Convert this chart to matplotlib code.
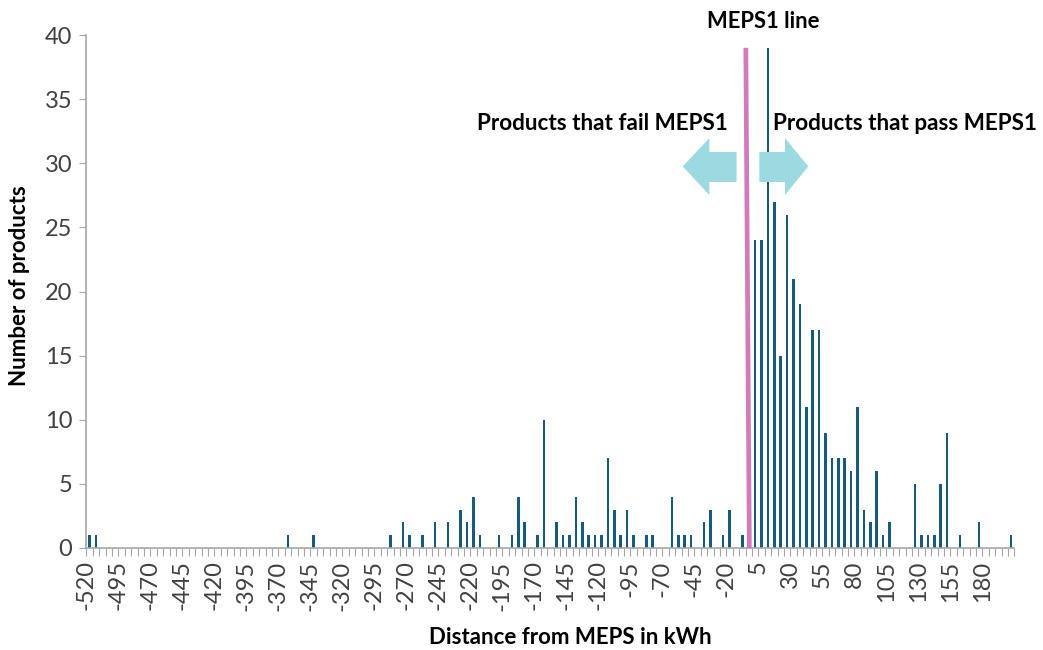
import numpy as np
import matplotlib.pyplot as plt
from matplotlib.patches import Polygon

plt.rcParams['font.family'] = ['Lato', 'DejaVu Sans']

# bins (kWh from MEPS) that have products, and how many
bins = [-520, -515, -365, -345, -285, -275, -270, -260, -250, -240,
        -230, -225, -220, -215, -200, -190, -185, -180, -170, -165,
        -155, -150, -145, -140, -135, -130, -125, -120, -115, -110,
        -105, -100, -95, -85, -80, -65, -60, -55, -50, -40,
        -35, -25, -20, -10, 0, 5, 10, 15, 20, 25,
        30, 35, 40, 45, 50, 55, 60, 65, 70, 75,
        80, 85, 90, 95, 100, 105, 125, 130, 135, 140,
        145, 150, 160, 175, 200]
counts = [1, 1, 1, 1, 1, 2, 1, 1, 2, 2,
          3, 2, 4, 1, 1, 1, 4, 2, 1, 10,
          2, 1, 1, 4, 2, 1, 1, 1, 7, 3,
          1, 3, 1, 1, 1, 4, 1, 1, 1, 2,
          3, 1, 3, 1, 24, 24, 39, 27, 15, 26,
          21, 19, 11, 17, 17, 9, 7, 7, 7, 6,
          11, 3, 2, 6, 1, 2, 5, 1, 1, 1,
          5, 9, 1, 2, 1]

categories = list(range(-520, 205, 5))
label_values = list(range(-520, 185, 25))

all_counts = [0] * len(categories)
for b, c in zip(bins, counts):
    all_counts[categories.index(b)] = c

W, H = 1043, 650
bar_color = '#145B7D'
pink = '#D27BBC'
arrow_color = '#9DD9E1'
axis_gray = '#A6A6A6'
text_gray = '#404040'

fig = plt.figure(figsize=(W / 100, H / 100), dpi=100)
ax = fig.add_axes([86.3 / W, 1 - 548 / H, (1014.3 - 86.3) / W, (548 - 35) / H])

idx = np.arange(len(categories))
ax.bar(idx, all_counts, width=0.4, color=bar_color, zorder=2)

ax.set_xlim(-0.5, len(categories) - 0.5)
ax.set_ylim(0, 40)

for s in ['top', 'right']:
    ax.spines[s].set_visible(False)
for s in ['left', 'bottom']:
    ax.spines[s].set_color(axis_gray)
    ax.spines[s].set_linewidth(1.2)

ax.set_yticks(range(0, 41, 5))
ax.tick_params(axis='y', length=5, color=axis_gray, labelsize=17,
               labelcolor=text_gray, pad=5)

# tick marks at every bin edge, labels every 5th bin
edges = np.arange(-0.5, len(categories), 1)
ax.set_xticks(edges)
xlabels = []
for e in edges:
    k = int(e + 0.5)
    if k < len(categories) and categories[k] in label_values:
        xlabels.append(str(categories[k]))
    else:
        xlabels.append('')
ax.set_xticklabels(xlabels, rotation=90)
ax.tick_params(axis='x', length=6, color=axis_gray, labelsize=17,
               labelcolor=text_gray, pad=3)

# MEPS1 line
meps = categories.index(-5)
ax.plot([meps - 0.45, meps + 0.1], [39.0, 0], color=pink, lw=3.4,
        solid_capstyle='butt', zorder=4, clip_on=False)

# block arrows either side of the line
def block_arrow(tail, head_base, tip, yc):
    return [(tip, yc), (head_base, yc + 2.22), (head_base, yc + 1.13),
            (tail, yc + 1.13), (tail, yc - 1.21), (head_base, yc - 1.21),
            (head_base, yc - 2.23)]

ax.add_patch(Polygon(block_arrow(meps - 1.9, meps - 6.15, meps - 10.3, 29.75),
                     closed=True, color=arrow_color, lw=0, zorder=3))
ax.add_patch(Polygon(block_arrow(meps + 1.66, meps + 5.67, meps + 9.31, 29.75),
                     closed=True, color=arrow_color, lw=0, zorder=3))

fig.text(763.7 / W, 1 - 21.7 / H, 'MEPS1 line', ha='center', va='center',
         fontsize=15.8, fontweight='bold')
fig.text(728 / W, 1 - 123 / H, 'Products that fail MEPS1', ha='right',
         va='center', fontsize=16.2, fontweight='bold')
fig.text(773 / W, 1 - 123 / H, 'Products that pass MEPS1', ha='left',
         va='center', fontsize=16.2, fontweight='bold')

fig.text(570 / W, 1 - 637 / H, 'Distance from MEPS in kWh', ha='center',
         va='center', fontsize=16, fontweight='bold')
fig.text(20 / W, 1 - 286 / H, 'Number of products', ha='center',
         va='center', rotation=90, fontsize=16, fontweight='bold')

fig.savefig('out.png', dpi=100)
